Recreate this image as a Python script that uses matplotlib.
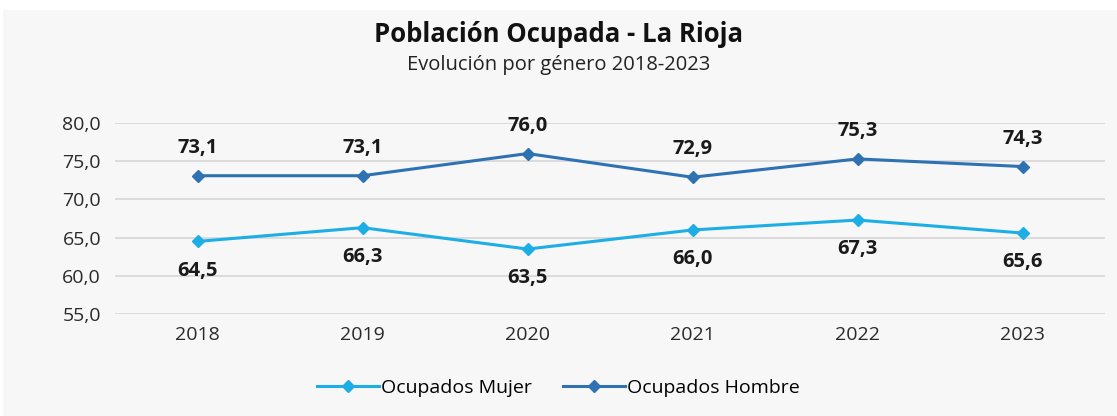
import matplotlib
matplotlib.use("Agg")
from matplotlib import pyplot as plt
from matplotlib.patches import Rectangle
from matplotlib.ticker import FuncFormatter

years = ["2018", "2019", "2020", "2021", "2022", "2023"]
mujer = [64.5, 66.3, 63.5, 66.0, 67.3, 65.6]
hombre = [73.1, 73.1, 76.0, 72.9, 75.3, 74.3]

c_mujer = "#1eaee6"
c_hombre = "#2e72b4"

plt.rcParams["font.family"] = ["Open Sans", "DejaVu Sans"]

fig = plt.figure(figsize=(11.17, 4.16), dpi=100)
fig.patch.set_facecolor("white")
# light grey panel behind the chart
fig.patches.append(Rectangle((3 / 1117, 0), 1, 406 / 416, transform=fig.transFigure,
                             facecolor="#f7f7f7", edgecolor="none", zorder=-5))

ax = fig.add_axes([115 / 1117, 102 / 416, 990 / 1117, 191 / 416])
ax.set_facecolor("none")
ax.set_zorder(2)

x = list(range(len(years)))
ax.plot(x, mujer, color=c_mujer, lw=2.2, marker="D", ms=6, label="Ocupados Mujer", zorder=3)
ax.plot(x, hombre, color=c_hombre, lw=2.2, marker="D", ms=6, label="Ocupados Hombre", zorder=3)

def fmt(v):
    return f"{v:.1f}".replace(".", ",")

for i in x:
    ax.annotate(fmt(hombre[i]), (i, hombre[i]), xytext=(0, 20), textcoords="offset points",
                ha="center", va="center", fontsize=14.5, fontweight="bold", color="#1a1a1a")
    ax.annotate(fmt(mujer[i]), (i, mujer[i]), xytext=(0, -21), textcoords="offset points",
                ha="center", va="center", fontsize=14.5, fontweight="bold", color="#1a1a1a")

ax.set_xlim(-0.5, 5.5)
ax.set_ylim(55, 80)
ax.set_yticks([55, 60, 65, 70, 75, 80])
ax.yaxis.set_major_formatter(FuncFormatter(lambda v, p: fmt(v)))
ax.set_xticks(x)
ax.set_xticklabels(years)
ax.grid(axis="y", color="#d9d9d9", lw=1.3)
ax.set_axisbelow(True)
for s in ax.spines.values():
    s.set_visible(False)
ax.tick_params(length=0, labelsize=14, colors="#2a2a2a")
ax.tick_params(axis="y", pad=10)
ax.tick_params(axis="x", pad=9)

fig.text(0.5, 1 - 35 / 416, "Población Ocupada - La Rioja", ha="center", va="center",
         fontsize=18.5, fontweight="bold", color="#111111")
fig.text(0.5, 1 - 65 / 416, "Evolución por género 2018-2023", ha="center", va="center",
         fontsize=14.5, color="#222222")

fig.legend(loc="center", bbox_to_anchor=(0.5, 1 - 388 / 416), ncol=2, frameon=False,
           fontsize=14, handlelength=3.2, handletextpad=0.1, columnspacing=1.6)

fig.savefig("out.png", dpi=100)
